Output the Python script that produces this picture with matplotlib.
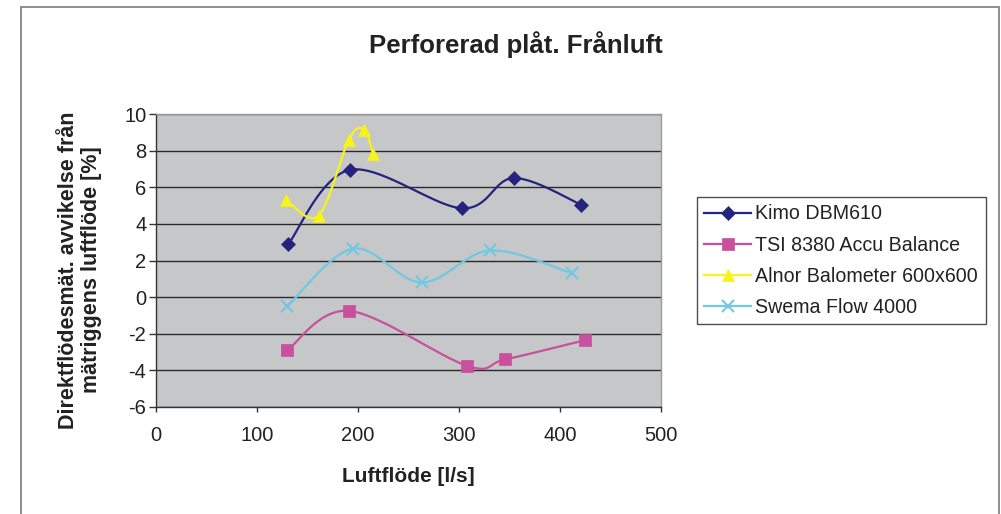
import numpy as np
import matplotlib
matplotlib.use("Agg")
import matplotlib.pyplot as plt
from matplotlib.patches import Rectangle

plt.rcParams['font.family'] = ['Liberation Sans', 'DejaVu Sans']
plt.rcParams['axes.unicode_minus'] = False

# ---- data ----
kimo_x = [131, 192, 303, 354, 421]
kimo_y = [2.9, 6.95, 4.85, 6.5, 5.05]
tsi_x = [130, 191, 308, 346, 425]
tsi_y = [-2.9, -0.75, -3.75, -3.4, -2.35]
alnor_x = [129, 161, 191, 206, 215]
alnor_y = [5.3, 4.45, 8.6, 9.15, 7.8]
swema_x = [130, 195, 263, 331, 412]
swema_y = [-0.5, 2.65, 0.8, 2.55, 1.3]

labels = ["Kimo DBM610", "TSI 8380 Accu Balance", "Alnor Balometer 600x600", "Swema Flow 4000"]
colors = ["#24247E", "#C8509E", "#F8F318", "#70C8E2"]
markers = ["D", "s", "^", "x"]
title = "Perforerad plåt. Frånluft"
xlabel = "Luftflöde [l/s]"
ylabel = "Direktflödesmät. avvikelse från\nmätriggens luftflöde [%]"


def smooth(xs, ys, n=30):
    """Excel-like smoothed line (Catmull-Rom Bezier through points)."""
    P = np.column_stack([xs, ys]).astype(float)
    out = [P[0]]
    m = len(P)
    for i in range(m - 1):
        p0 = P[i - 1] if i > 0 else P[i]
        p1 = P[i]
        p2 = P[i + 1]
        p3 = P[i + 2] if i + 2 < m else P[i + 1]
        c1 = p1 + (p2 - p0) / 6.0
        c2 = p2 - (p3 - p1) / 6.0
        t = np.linspace(0, 1, n)[1:, None]
        seg = ((1 - t) ** 3) * p1 + 3 * ((1 - t) ** 2) * t * c1 + 3 * (1 - t) * t ** 2 * c2 + t ** 3 * p2
        out.extend(seg)
    out = np.array(out)
    return out[:, 0], out[:, 1]


fig = plt.figure(figsize=(10.01, 5.14), dpi=100)
W, H = 1001, 514
ax = fig.add_axes([156 / W, 1 - 407 / H, 505 / W, 293 / H])
ax.set_facecolor("#C6C7C9")

series = [(kimo_x, kimo_y), (tsi_x, tsi_y), (alnor_x, alnor_y), (swema_x, swema_y)]
msizes = [7.5, 8.5, 9, 8]
for (xs, ys), lab, c, mk, ms in zip(series, labels, colors, markers, msizes):
    sx, sy = smooth(xs, ys)
    ax.plot(sx, sy, color=c, lw=1.6, zorder=3)
    ax.plot(xs, ys, linestyle="none", marker=mk, color=c, markersize=ms,
            markeredgewidth=1.5 if mk == "x" else 0.5, zorder=4)
    ax.plot([], [], color=c, lw=1.6, marker=mk, markersize=ms,
            markeredgewidth=1.5 if mk == "x" else 0.5, label=lab)

ax.set_xlim(0, 500)
ax.set_ylim(-6, 10)
ax.set_xticks(np.arange(0, 501, 100))
ax.set_yticks(np.arange(-6, 11, 2))
ax.yaxis.grid(True, color="#2a2a2a", lw=1.0)
ax.set_axisbelow(True)
for s in ["top", "right"]:
    ax.spines[s].set_color("#9a9a9a")
    ax.spines[s].set_linewidth(1.0)
for s in ["left", "bottom"]:
    ax.spines[s].set_color("#333333")
    ax.spines[s].set_linewidth(1.0)
ax.tick_params(direction="out", width=1, color="#333333",
               labelsize=14.5, labelcolor="#222222")
ax.tick_params(axis="x", length=3.5, pad=10)
ax.tick_params(axis="y", length=5, pad=2)

ax.set_xlabel(xlabel, fontsize=15, fontweight="bold", color="#222222", labelpad=16)
fig.text(80 / W, 1 - 270 / H, ylabel, rotation=90, ha="center", va="center",
         fontsize=15.5, fontweight="bold", color="#222222", linespacing=1.15)
fig.text(516 / W, 1 - 45 / H, title, ha="center", va="center",
         fontsize=18.5, fontweight="bold", color="#222222")

leg = fig.legend(loc="upper left", bbox_to_anchor=(697 / W, 1 - 197 / H),
                 frameon=True, fancybox=False, edgecolor="#222222",
                 fontsize=14.1, handlelength=2.4, handletextpad=0.2,
                 labelspacing=0.62, borderpad=0.38, borderaxespad=0)
leg.get_frame().set_linewidth(1.0)
for t in leg.get_texts():
    t.set_color("#222222")

fig.patches.append(Rectangle((21 / W, -0.05), (999 - 21) / W, 1.05 - 7 / H,
                             transform=fig.transFigure, fill=False,
                             edgecolor="#7a7a7a", lw=1.2))

fig.savefig("out.png", dpi=100)
